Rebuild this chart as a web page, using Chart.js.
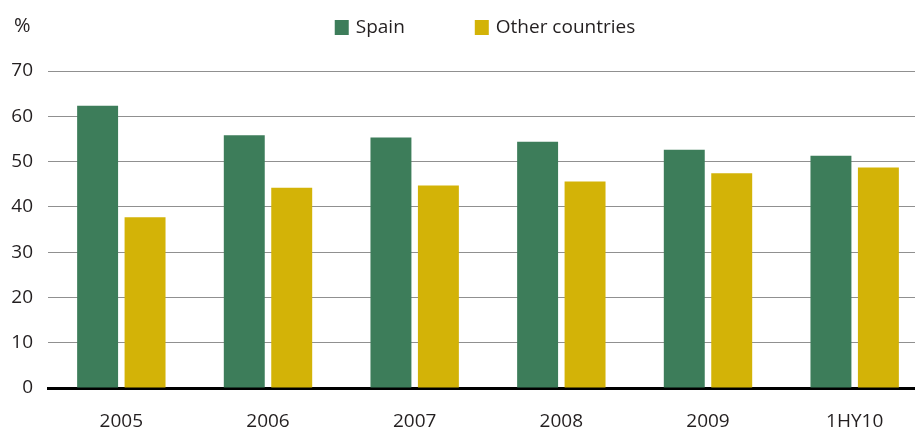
<!DOCTYPE html>
<html>
<head>
<meta charset="utf-8">
<script src="https://cdn.jsdelivr.net/npm/chart.js@4.4.1/dist/chart.umd.min.js"></script>
<style>
  html, body { margin: 0; padding: 0; overflow: hidden; background: #fff; }
  #wrap { width: 928px; height: 430px; }
</style>
</head>
<body>
<div id="wrap"><canvas id="shareChart"></canvas></div>
<script>
const periods = ['2005', '2006', '2007', '2008', '2009', '1HY10'];
const spainShare = [62.3, 55.8, 55.3, 54.4, 52.6, 51.3];
const otherShare = [37.7, 44.2, 44.7, 45.6, 47.4, 48.7];
const yTicks = [0, 10, 20, 30, 40, 50, 60, 70];

const textColor = '#231f20';
Chart.defaults.font.family = '"Open Sans", sans-serif';
Chart.defaults.color = textColor;

// unit mark and the legend row above the plot
const headerPlugin = {
  id: 'header',
  afterDraw(chart) {
    const ctx = chart.ctx;
    ctx.save();
    ctx.textBaseline = 'middle';
    ctx.textAlign = 'left';
    ctx.fillStyle = textColor;
    ctx.font = '20px "Open Sans"';
    ctx.fillText('%', 14, 26);

    ctx.font = '19px "Open Sans"';
    const box = 14, gap = 7, spacing = 70;
    const items = chart.data.datasets.map((ds) => ({ text: ds.label, color: ds.backgroundColor }));
    const widths = items.map((it) => box + gap + ctx.measureText(it.text).width);
    const total = widths.reduce((a, b) => a + b, 0) + spacing * (items.length - 1);
    let x = (chart.chartArea.left + chart.chartArea.right) / 2 - total / 2 - 3;
    items.forEach((it, i) => {
      ctx.fillStyle = it.color;
      ctx.fillRect(x, 20, box, 15);
      ctx.fillStyle = textColor;
      ctx.fillText(it.text, x + box + gap, 28);
      x += widths[i] + spacing;
    });
    ctx.restore();
  }
};

new Chart(document.getElementById('shareChart'), {
  type: 'bar',
  data: {
    labels: periods,
    datasets: [
      { label: 'Spain', data: spainShare, backgroundColor: '#3d7d5a' },
      { label: 'Other countries', data: otherShare, backgroundColor: '#d3b307' }
    ]
  },
  options: {
    responsive: true,
    maintainAspectRatio: false,
    animation: false,
    categoryPercentage: 0.647,
    barPercentage: 0.863,
    layout: { padding: { top: 71, left: 0, right: 0, bottom: 0 } },
    plugins: {
      legend: { display: false },
      tooltip: { enabled: false }
    },
    scales: {
      x: {
        grid: { display: false, drawTicks: false },
        border: { display: true, color: '#000', width: 3 },
        ticks: { padding: 22, font: { size: 19 }, color: textColor },
        afterFit(scale) { scale.height = 42; }
      },
      y: {
        min: 0,
        max: 70,
        grid: { color: '#909090', lineWidth: 1, drawTicks: false },
        border: { display: false },
        ticks: { padding: 15, font: { size: 19 }, color: textColor },
        afterBuildTicks(scale) { scale.ticks = yTicks.map((v) => ({ value: v })); },
        afterFit(scale) { scale.width = 48; }
      }
    }
  },
  plugins: [headerPlugin]
});
</script>
</body>
</html>
